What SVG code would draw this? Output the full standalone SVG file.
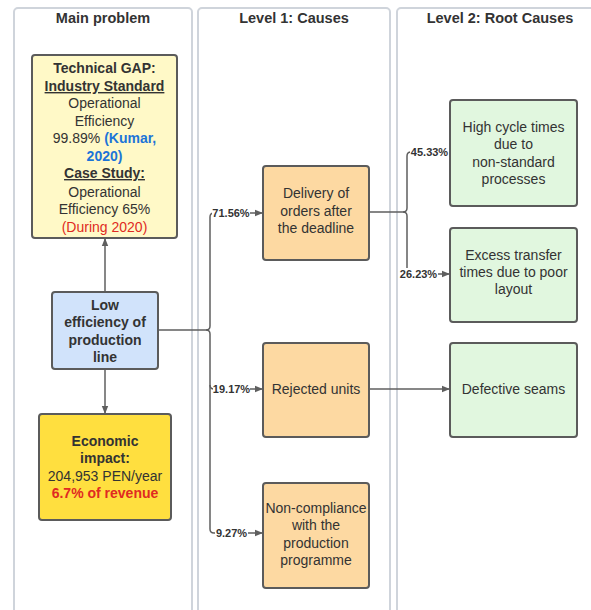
<svg xmlns="http://www.w3.org/2000/svg" width="591" height="610" viewBox="0 0 591 610">
<style>
text{font-family:"Liberation Sans",Arial,sans-serif;fill:#333;}
.lane{fill:#fff;stroke:#cfd4db;stroke-width:2;}
.hdr{font-size:14.5px;font-weight:bold;text-anchor:middle;}
.box{stroke:#5b5b5b;stroke-width:2;}
.t{font-size:14px;text-anchor:middle;}
.b{font-weight:bold;}
.u{text-decoration:underline;}
.blue{fill:#1c74d8;font-weight:bold;}
.red{fill:#e02a22;}
.lbl{font-size:11px;font-weight:bold;text-anchor:middle;}
.ln{fill:none;stroke:#5f5f5f;stroke-width:1.5;}
.bg{fill:#fff;}
</style>
<defs>
<marker id="ah" viewBox="0 0 10 10" refX="10" refY="5" markerWidth="8" markerHeight="8" markerUnits="userSpaceOnUse" orient="auto">
<path d="M0,1 L10,5 L0,9 z" fill="#5f5f5f"/>
</marker>
</defs>
<g id="lanes">
<rect class="lane" x="14" y="8" width="178" height="620" rx="4"/>
<rect class="lane" x="198" y="8" width="192" height="620" rx="4"/>
<rect class="lane" x="397" y="8" width="210" height="620" rx="4"/>
<text class="hdr" x="103" y="23">Main problem</text>
<text class="hdr" x="294" y="23">Level 1: Causes</text>
<text class="hdr" x="500" y="23">Level 2: Root Causes</text>
</g>
<g id="connectors">
<path class="ln" d="M105,292 V238" marker-end="url(#ah)"/>
<path class="ln" d="M105,369 V414" marker-end="url(#ah)"/>
<path class="ln" d="M158,330 H206 Q210,330 210,326 V217 Q210,213 214,213 H263" marker-end="url(#ah)"/>
<path class="ln" d="M206,330 Q210,330 210,334 V385 Q210,389 214,389 H263" marker-end="url(#ah)"/>
<path class="ln" d="M210,385 V529 Q210,533 214,533 H263" marker-end="url(#ah)"/>
<path class="ln" d="M369,212 H403 Q407,212 407,208 V156 Q407,152 411,152 H450"/>
<path class="ln" d="M403,212 Q407,212 407,216 V270 Q407,274 411,274 H450" marker-end="url(#ah)"/>
<path class="ln" d="M369,389 H450" marker-end="url(#ah)"/>
<rect class="bg" x="212" y="207" width="38" height="12"/>
<text class="lbl" x="231" y="217">71.56%</text>
<rect class="bg" x="213" y="383" width="37" height="12"/>
<text class="lbl" x="231.5" y="393">19.17%</text>
<rect class="bg" x="215" y="527" width="33" height="12"/>
<text class="lbl" x="231.5" y="537">9.27%</text>
<rect class="bg" x="410" y="146" width="39" height="12"/>
<text class="lbl" x="429.5" y="156">45.33%</text>
<rect class="bg" x="399" y="268" width="39" height="12"/>
<text class="lbl" x="418.5" y="278">26.23%</text>
</g>
<g id="gap">
<rect class="box" x="32" y="55" width="145" height="183" rx="3" fill="#fff9c7"/>
<text class="t b" x="104.5" y="73">Technical GAP:</text>
<text class="t b u" x="104.5" y="91">Industry Standard</text>
<text class="t" x="104.5" y="108">Operational</text>
<text class="t" x="104.5" y="126">Efficiency</text>
<text class="t" x="104.5" y="143">99.89% <tspan class="blue">(Kumar,</tspan></text>
<text class="t blue" x="104.5" y="161">2020)</text>
<text class="t b u" x="104.5" y="178">Case Study:</text>
<text class="t" x="104.5" y="197">Operational</text>
<text class="t" x="104.5" y="214">Efficiency 65%</text>
<text class="t red" x="104.5" y="232">(During 2020)</text>
</g>
<g id="low">
<rect class="box" x="52" y="292" width="106" height="77" rx="3" fill="#d1e3fb"/>
<text class="t b" x="105" y="310">Low</text>
<text class="t b" x="105" y="327">efficiency of</text>
<text class="t b" x="105" y="345">production</text>
<text class="t b" x="105" y="362">line</text>
</g>
<g id="impact">
<rect class="box" x="39" y="414" width="132" height="106" rx="3" fill="#ffdf3f"/>
<text class="t b" x="105" y="446">Economic</text>
<text class="t b" x="105" y="463">impact:</text>
<text class="t" x="105" y="481">204,953 PEN/year</text>
<text class="t b red" x="105" y="498">6.7% of revenue</text>
</g>
<g id="delivery">
<rect class="box" x="263" y="166" width="106" height="94" rx="3" fill="#fdd9a2"/>
<text class="t" x="316" y="198">Delivery of</text>
<text class="t" x="316" y="216">orders after</text>
<text class="t" x="316" y="233">the deadline</text>
</g>
<g id="rejected">
<rect class="box" x="263" y="343" width="106" height="94" rx="3" fill="#fdd9a2"/>
<text class="t" x="316" y="394">Rejected units</text>
</g>
<g id="noncompliance">
<rect class="box" x="263" y="483" width="106" height="105" rx="3" fill="#fdd9a2"/>
<text class="t" x="316" y="513">Non-compliance</text>
<text class="t" x="316" y="530">with the</text>
<text class="t" x="316" y="548">production</text>
<text class="t" x="316" y="565">programme</text>
</g>
<g id="cycle">
<rect class="box" x="450" y="100" width="127" height="106" rx="3" fill="#e1f7df"/>
<text class="t" x="513.5" y="132">High cycle times</text>
<text class="t" x="513.5" y="149">due to</text>
<text class="t" x="513.5" y="167">non-standard</text>
<text class="t" x="513.5" y="184">processes</text>
</g>
<g id="transfer">
<rect class="box" x="450" y="228" width="127" height="94" rx="3" fill="#e1f7df"/>
<text class="t" x="513.5" y="260">Excess transfer</text>
<text class="t" x="513.5" y="277">times due to poor</text>
<text class="t" x="513.5" y="294">layout</text>
</g>
<g id="seams">
<rect class="box" x="450" y="343" width="127" height="94" rx="3" fill="#e1f7df"/>
<text class="t" x="513.5" y="394">Defective seams</text>
</g>
</svg>
